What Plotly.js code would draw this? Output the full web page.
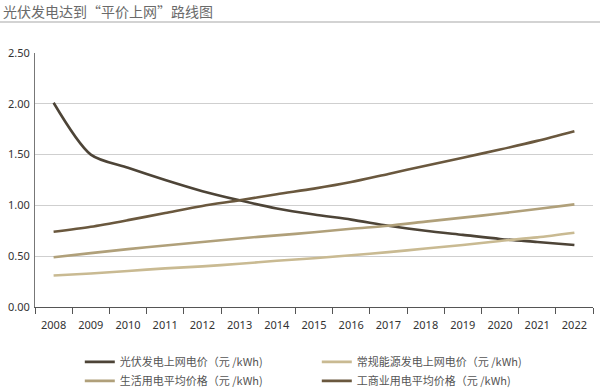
<!DOCTYPE html>
<html>
<head>
<meta charset="utf-8">
<script src="https://cdn.plot.ly/plotly-3.0.1.min.js"></script>
<style>html,body{margin:0;padding:0;background:#fff;}#chart{width:600px;height:389px;}</style>
</head>
<body>
<div id="chart"></div>
<script>
const years = ["2008","2009","2010","2011","2012","2013","2014","2015","2016","2017","2018","2019","2020","2021","2022"];
const pvPrice = [2.01, 1.50, 1.37, 1.25, 1.14, 1.05, 0.97, 0.91, 0.86, 0.80, 0.75, 0.71, 0.67, 0.64, 0.61];
const conventionalPrice = [0.31, 0.33, 0.355, 0.38, 0.40, 0.425, 0.455, 0.48, 0.51, 0.54, 0.575, 0.61, 0.65, 0.685, 0.73];
const residentialPrice = [0.49, 0.53, 0.57, 0.605, 0.64, 0.675, 0.705, 0.735, 0.77, 0.80, 0.84, 0.88, 0.92, 0.965, 1.01];
const industrialPrice = [0.74, 0.79, 0.855, 0.925, 0.995, 1.05, 1.11, 1.165, 1.23, 1.31, 1.39, 1.47, 1.55, 1.635, 1.73];
const seriesNames = ["光伏发电上网电价（元 /kWh)", "常规能源发电上网电价（元 /kWh)", "生活用电平均价格（元 /kWh)", "工商业用电平均价格（元 /kWh)"];
const yTicks = [0, 0.5, 1.0, 1.5, 2.0, 2.5];
const yTickText = ["0.00", "0.50", "1.00", "1.50", "2.00", "2.50"];

const colors = ["#4d4437", "#c9ba92", "#b0a07a", "#6a583e"];
const data = [pvPrice, conventionalPrice, residentialPrice, industrialPrice].map((v, i) => ({
  type: "scatter", mode: "lines", x: years, y: v, name: seriesNames[i],
  line: {color: colors[i], width: 2.6, shape: "spline", smoothing: 0.8}
}));

const layout = {
  width: 600, height: 389,
  margin: {l: 35, r: 7, t: 53, b: 82},
  paper_bgcolor: "#fff", plot_bgcolor: "#fff",
  font: {family: "'Noto Sans', 'Noto Sans CJK SC', sans-serif", color: "#444"},
  title: {text: "光伏发电达到“平价上网”路线图", x: 0.005, xanchor: "left", xref: "container",
          y: 0.968, yanchor: "middle", yref: "container",
          font: {family: "'Noto Sans CJK SC', sans-serif", size: 14, color: "#6a6a6a"}},
  xaxis: {type: "category", tickson: "boundaries", ticks: "outside", ticklen: 6, tickcolor: "#555",
          showline: true, linecolor: "#555", linewidth: 1, showgrid: false, zeroline: false,
          tickfont: {size: 11, color: "#333"}, ticklabelstandoff: 8, range: [-0.5, 14.5], fixedrange: true},
  yaxis: {range: [0, 2.5], tickvals: yTicks, ticktext: yTickText, showline: true, linecolor: "#777",
          linewidth: 1, gridcolor: "#cfcfcf", gridwidth: 1, zeroline: false, ticks: "",
          tickfont: {size: 11, color: "#333"}, ticklabelstandoff: 2},
  showlegend: true,
  legend: {orientation: "h", xref: "container", yref: "container", x: 0.133, xanchor: "left",
           y: 0.107, yanchor: "top", entrywidth: 192, entrywidthmode: "pixels", tracegroupgap: 0,
           font: {family: "'Noto Sans CJK SC', sans-serif", size: 11, color: "#555"}},
  shapes: [{type: "line", xref: "paper", yref: "paper", x0: -0.063, x1: 1.013, y0: 1.122, y1: 1.122,
            line: {color: "#c4c4c4", width: 1.5}}]
};
Plotly.newPlot("chart", data, layout, {displayModeBar: false, staticPlot: true});
</script>
</body>
</html>
